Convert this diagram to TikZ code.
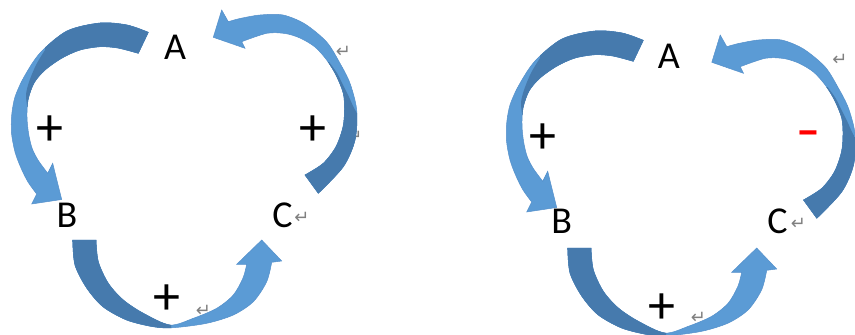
\documentclass[tikz,border=0pt]{standalone}
\usepackage{fontspec}
\setmainfont{Carlito}
\newfontfamily\marksfont{DejaVu Sans}
\definecolor{lightblue}{HTML}{5B9BD5}
\definecolor{lightedge}{HTML}{5590CB}
\definecolor{darkblue}{HTML}{467AAD}
\definecolor{markgray}{HTML}{808080}
\definecolor{minusred}{HTML}{FF0000}
\tikzset{
  lightarr/.style={fill=lightblue, draw=lightedge, line width=0.5pt},
  darkarr/.style={fill=darkblue, draw=darkblue, line width=0.5pt},
  letter/.style={font=\fontsize{38}{40}\selectfont, inner sep=0pt, text=black},
  signtxt/.style={font=\fontsize{54}{56}\selectfont, inner sep=0pt, text=black},
  minustxt/.style={font=\bfseries\fontsize{48}{50}\selectfont, inner sep=0pt, text=minusred},
  retmark/.style={font=\marksfont\fontsize{18}{19}\selectfont, inner sep=0pt, text=markgray}
}
% A -> B arrow (left part of the cycle)
\newcommand{\bandAB}[1]{\path[#1] plot[smooth] coordinates {(148.3,32.3) (127,25) (100,23) (67,31) (40,53) (24,77) (15,97) (11.7,115) (11.5,133) (15,152) (21,168) (28,182) (36.7,194)} -- (31.7,204) -- (61.7,199.5) -- (52.7,163.3) -- plot[smooth] coordinates {(47.7,173.3) (38,160) (32,148) (28.5,133) (27,117) (28,100) (34,83) (45,70) (62,58) (80,50) (100,46.7) (118,48) (138.3,53.3)} -- cycle;}
\newcommand{\arrowAB}{\bandAB{lightarr}\begin{scope}\clip (45,-10) -- plot[smooth] coordinates {(45,50) (36,65) (29,82) (26,95) (27.5,108)} -- (200,108) -- (200,-10) -- cycle; \bandAB{darkarr}\end{scope}}
% B -> C arrow (bottom)
\newcommand{\bandBC}[1]{\path[#1] plot[smooth] coordinates {(72.7,240) (75,265) (86.7,288) (103,306.7) (126.7,320) (153.3,326.7) (173.3,327.7) (206.7,323.3) (233.3,315) (253.3,301.7) (266.7,281.7) (271.7,262.3)} -- (281.7,261) -- (261.7,240) -- (236.7,264.3) -- plot[smooth] coordinates {(246.7,264.3) (243,278) (233.3,295) (216.7,308.3) (193.3,318.3) (170,325) (143.3,313.3) (123.3,300) (108.3,283.3) (98.3,261.7) (96,240)} -- cycle;}
\newcommand{\arrowBC}{\bandBC{lightarr}\begin{scope}\clip (0,200) rectangle (171,340); \bandBC{darkarr}\end{scope}}
% C -> A arrow (right part of the cycle)
\newcommand{\bandCA}[1]{\path[#1] plot[smooth] coordinates {(318.3,193.3) (343.3,166.7) (355,140) (356.7,110) (350,83.3) (340,63.3) (326.7,42) (305,24) (283,15) (260,15) (240,18.5) (228.3,21.7)} -- (221.7,10) -- (213.3,37.3) -- (245,48.3) -- plot[smooth] coordinates {(241.7,41.7) (266.7,33.3) (285,33.5) (300,38) (315,47) (326.7,60) (336,75) (343.3,93.3) (344.5,110) (343,127) (336,146.7) (323.3,163.3) (305,175)} -- cycle;}
\newcommand{\arrowCA}{\bandCA{lightarr}\begin{scope}\clip (270,62) -- plot[smooth] coordinates {(329,62) (337,73) (343,85) (349,97) (354,108) (360,118)} -- (380,118) -- (380,230) -- (270,230) -- cycle; \bandCA{darkarr}\end{scope}}
\begin{document}
\begin{tikzpicture}[x=1pt,y=-1pt]
\path[use as bounding box] (0,0) rectangle (855,335);
% partly hidden paragraph mark behind the arrow
\node[retmark] (m0) at (355,137) {↵};
% left cycle
\arrowAB
\arrowBC
\arrowCA
\node[letter] (A1) at (175,47.5) {A};
\node[letter] (B1) at (67,215) {B};
\node[letter] (C1) at (282.5,215) {C};
\node[signtxt] (s1) at (50,131) {+};
\node[signtxt] (s2) at (313.3,131) {+};
\node[signtxt] (s3) at (166.7,300) {+};
\node[retmark] (m1) at (343.3,51.7) {↵};
\node[retmark] (m2) at (302,217.5) {↵};
\node[retmark] (m3) at (203.3,311) {↵};
% right cycle
\begin{scope}[shift={(495,8)}]
\arrowAB
\arrowBC
\end{scope}
\begin{scope}[shift={(498.5,25)}]
\arrowCA
\end{scope}
\node[letter] (A2) at (668.8,56.7) {A};
\node[letter] (B2) at (561.7,221) {B};
\node[letter] (C2) at (777.5,221) {C};
\node[signtxt] (s4) at (543.3,139) {+};
\node[minustxt] (s5) at (808.3,138.3) {–};
\node[signtxt] (s6) at (661.7,308.3) {+};
\node[retmark] (m4) at (840,60) {↵};
\node[retmark] (m5) at (798.3,224.3) {↵};
\node[retmark] (m6) at (698.3,318.3) {↵};
\end{tikzpicture}
\end{document}
